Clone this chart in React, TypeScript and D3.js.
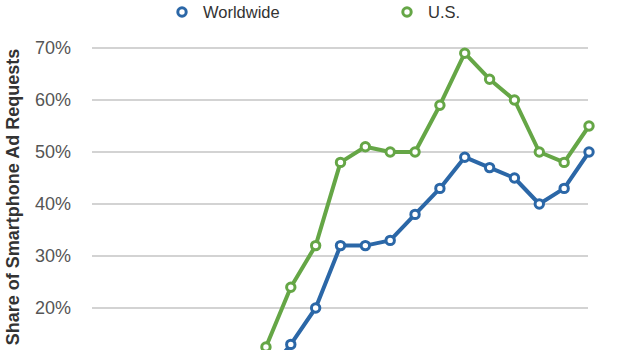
import React from "react";
import * as d3 from "d3";

// x categories (periods), 21 evenly spaced points
const periods: number[] = d3.range(21);
// share of smartphone ad requests (%)
const worldwide: number[] = [1, 1, 2, 2, 3, 4, 5, 7, 13, 20, 32, 32, 33, 38, 43, 49, 47, 45, 40, 43, 50];
const us: number[] = [1, 2, 2, 3, 3, 4, 6, 12.5, 24, 32, 48, 51, 50, 50, 59, 69, 64, 60, 50, 48, 55];
const yTicks: number[] = [20, 30, 40, 50, 60, 70];
const seriesNames: string[] = ["Worldwide", "U.S."];
const seriesColors: string[] = ["#2b67a7", "#65a646"];

const W = 620;
const H = 350;
const FONT = "'Liberation Sans', Arial, Helvetica, sans-serif";

export default function App() {
  const x = d3.scalePoint<number>().domain(periods).range([92, 589]);
  const y = d3.scaleLinear().domain([10, 70]).range([360, 48]);
  const line = d3
    .line<number>()
    .x((_, i) => x(periods[i]) as number)
    .y((d) => y(d));
  const data = [worldwide, us];

  return (
    <svg
      width={W}
      height={H}
      style={{ position: "absolute", left: 0, top: 0, background: "#fff" }}
      fontFamily={FONT}
    >
      <rect width={W} height={H} fill="#fff" />
      {yTicks.map((t) => (
        <g key={t}>
          <line x1={92} x2={588} y1={y(t)} y2={y(t)} stroke="#c4c4c4" strokeWidth={1.5} />
          <text x={71} y={y(t)} dy="0.36em" textAnchor="end" fontSize={18} fill="#555">
            {t}%
          </text>
        </g>
      ))}
      <text
        transform={`translate(19,197) rotate(-90)`}
        textAnchor="middle"
        fontSize={18}
        fontWeight="bold"
        fill="#333"
      >
        Share of Smartphone Ad Requests
      </text>
      {data.map((s, si) => (
        <g key={si}>
          <path d={line(s) || ""} fill="none" stroke={seriesColors[si]} strokeWidth={4} strokeLinejoin="round" />
          {s.map((v, i) => (
            <circle
              key={i}
              cx={x(periods[i]) as number}
              cy={y(v)}
              r={4.2}
              fill="#fff"
              stroke={seriesColors[si]}
              strokeWidth={3}
            />
          ))}
        </g>
      ))}
      {seriesNames.map((n, i) => {
        const cx = i === 0 ? 182 : 407;
        return (
          <g key={n}>
            <circle cx={cx} cy={12} r={4.2} fill="#fff" stroke={seriesColors[i]} strokeWidth={3} />
            <text x={cx + 21} y={17.5} fontSize={16.5} fill="#333">
              {n}
            </text>
          </g>
        );
      })}
    </svg>
  );
}
